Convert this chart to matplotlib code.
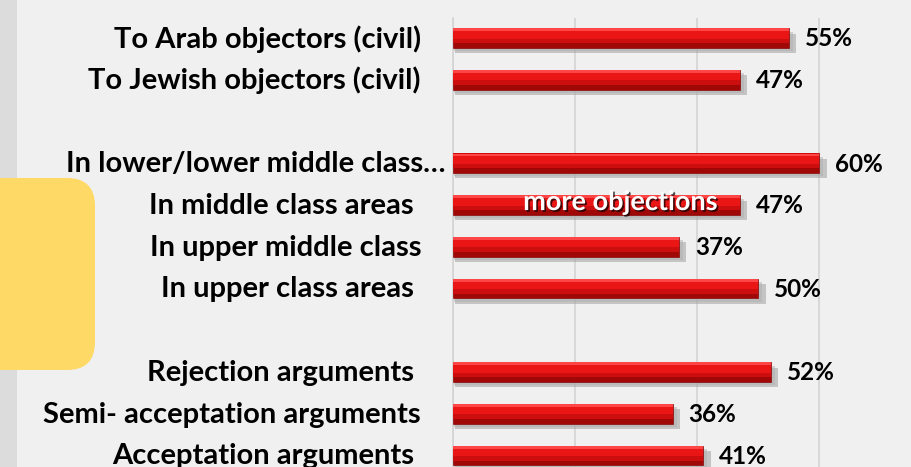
import matplotlib.pyplot as plt
import matplotlib.patheffects as pe
from matplotlib.patches import FancyBboxPatch, Rectangle

#DATA
labels = ["To Arab objectors (civil)", "To Jewish objectors (civil)", "",
          "In lower/lower middle class\u2026", "In middle class areas ", "In upper middle class",
          "In upper class areas ", "",
          "Rejection arguments ", "Semi- acceptation arguments", "Acceptation arguments "]
values = [55, 47, None, 60, 47, 37, 50, None, 52, 36, 41]
grid_ticks = [0, 20, 40, 60]

plt.rcParams['font.family'] = ['Lato', 'DejaVu Sans']

fig = plt.figure(figsize=(9.11, 4.67), dpi=100)
fig.patch.set_facecolor("#f0f0f0")

#LEFT GRAY STRIP AND YELLOW BOX (pixel coords)
fig.patches.append(Rectangle((0, 0), 17, 467, transform=None, facecolor="#dcdcdc", edgecolor="none", zorder=0))
fig.patches.append(FancyBboxPatch((-60, 97 + 28), 155 - 28, 192 - 56, boxstyle="round,pad=28",
                                  transform=None, facecolor="#ffd966", edgecolor="none", zorder=1))

ax = fig.add_axes([453 / 911, 0, 1 - 453 / 911, (467 - 18) / 467])
ax.set_facecolor("none")
ax.set_xlim(0, 75)
ax.set_ylim(10.275, -0.479)

pos = [i for i, v in enumerate(values) if v is not None]
vals = [v for v in values if v is not None]

#GRID
for g in grid_ticks:
    ax.axvline(g, color="#d4d4d4", lw=1.2, zorder=1)

h = 0.47
#SHADOW
ax.barh([p + 0.13 for p in pos], [v + 0.9 for v in vals], height=h, left=0.3,
        color="#a0a0a0", alpha=0.55, zorder=2)
ax.barh([p + 0.08 for p in pos], [v + 0.5 for v in vals], height=h, left=0.15,
        color="#b0b0b0", alpha=0.5, zorder=2)
#BAR BODY WITH FAKE GRADIENT
ax.barh(pos, vals, height=h, color="#a00808", edgecolor="#8a0808", lw=0.5, zorder=3)
ax.barh([p - h * 0.12 for p in pos], vals, height=h * 0.76, color="#cc0e0e", zorder=4)
ax.barh([p - h * 0.22 for p in pos], vals, height=h * 0.5, color="#ea1616", zorder=5)
ax.barh([p - h * 0.42 for p in pos], vals, height=h * 0.14, color="#ff4646", zorder=6)

#VALUE LABELS
for p, v in zip(pos, vals):
    ax.text(v + 2.6, p + 0.02, str(v) + "%", ha="left", va="center",
            fontsize=17.5, fontweight="bold", color="black", zorder=7)

#CATEGORY LABELS
for i, lab in enumerate(labels):
    if not lab:
        continue
    x = -32 / 458 * 75
    if lab.endswith("\u2026"):
        x = -8 / 458 * 75
    ax.text(x, i + 0.02, lab, ha="right", va="center", fontsize=21,
            fontweight="bold", color="black", clip_on=False)

ax.text(27.4, 3.93, "more objections", ha="center", va="center", fontsize=19.5,
        fontweight="bold", color="white", zorder=8,
        path_effects=[pe.withSimplePatchShadow(offset=(1.2, -1.2), shadow_rgbFace="black", alpha=0.7)])

ax.spines["top"].set_visible(False)
ax.spines["right"].set_visible(False)
ax.spines["bottom"].set_visible(False)
ax.spines["left"].set_color("#d4d4d4")
ax.spines["left"].set_linewidth(1.2)
ax.set_xticks([])
ax.set_yticks([])

fig.savefig("out.png", dpi=100, facecolor=fig.get_facecolor())
